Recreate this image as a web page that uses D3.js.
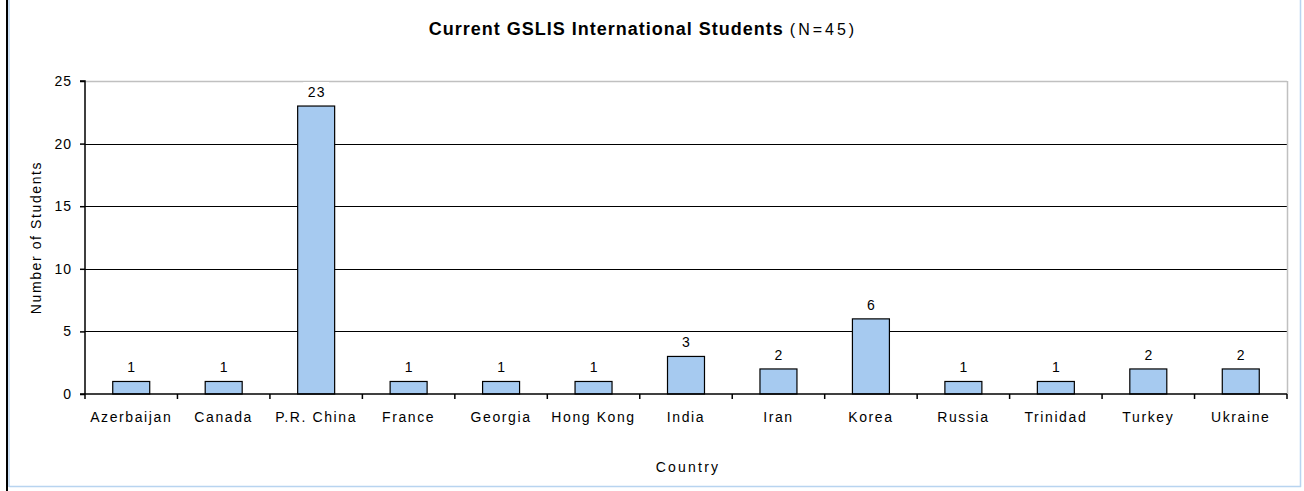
<!DOCTYPE html>
<html>
<head>
<meta charset="utf-8">
<script src="https://cdn.jsdelivr.net/npm/d3@7"></script>
<style>
  body { margin: 0; background: #fff; }
  text { font-family: "Liberation Sans", Arial, sans-serif; }
</style>
</head>
<body>
<div class="chart"></div>
<script>
var countries = ["Azerbaijan", "Canada", "P.R. China", "France", "Georgia", "Hong Kong",
    "India", "Iran", "Korea", "Russia", "Trinidad", "Turkey", "Ukraine"];
var students = [1, 1, 23, 1, 1, 1, 3, 2, 6, 1, 1, 2, 2];
var yTicks = [0, 5, 10, 15, 20, 25];

var dataset = countries.map(function (c, i) { return { country: c, value: students[i] }; });

var width = 1304, height = 491;
var plot = { left: 85, right: 1287, top: 81, bottom: 394 };

var svg = d3.select('div.chart')
    .append('svg')
    .attr('width', width)
    .attr('height', height);

// outer frame pieces
svg.append('line').attr('x1', 7).attr('x2', 7).attr('y1', 0).attr('y2', height)
    .attr('stroke', '#000').attr('stroke-width', 2);
svg.append('line').attr('x1', 9).attr('x2', 9).attr('y1', 0).attr('y2', 487)
    .attr('stroke', '#b8d4f0').attr('stroke-width', 1.5);
svg.append('line').attr('x1', 1300.5).attr('x2', 1300.5).attr('y1', 0).attr('y2', 487)
    .attr('stroke', '#b8d4f0').attr('stroke-width', 1.5);
svg.append('line').attr('x1', 9).attr('x2', 1301).attr('y1', 486.5).attr('y2', 486.5)
    .attr('stroke', '#b8d4f0').attr('stroke-width', 1.5);

var x = d3.scaleBand()
    .domain(countries)
    .range([plot.left, plot.right])
    .paddingInner(0.6)
    .paddingOuter(0.3);

var y = d3.scaleLinear()
    .domain([0, 25])
    .range([plot.bottom, plot.top]);

var step = x.step();

// gridlines
svg.append('g')
    .selectAll('line')
    .data(yTicks.filter(function (t) { return t > 0; }))
    .enter()
    .append('line')
    .attr('x1', plot.left)
    .attr('x2', plot.right)
    .attr('y1', function (d) { return Math.round(y(d)) + 0.5; })
    .attr('y2', function (d) { return Math.round(y(d)) + 0.5; })
    .attr('stroke', function (d) { return d == 25 ? '#c0c0c0' : '#000'; })
    .attr('stroke-width', function (d) { return d == 25 ? 1.5 : 1; });

// right border of the plot area
svg.append('line')
    .attr('x1', plot.right + 0.5).attr('x2', plot.right + 0.5)
    .attr('y1', plot.top).attr('y2', plot.bottom)
    .attr('stroke', '#c0c0c0').attr('stroke-width', 1.5);

// bars
svg.append('g')
    .selectAll('rect')
    .data(dataset)
    .enter()
    .append('rect')
    .attr('x', function (d) { return x(d.country); })
    .attr('y', function (d) { return y(d.value); })
    .attr('width', x.bandwidth())
    .attr('height', function (d) { return y(0) - y(d.value); })
    .attr('fill', '#a6caf0')
    .attr('stroke', '#000')
    .attr('stroke-width', 1.2);

// value labels, with white box behind
var labels = svg.append('g');
labels.selectAll('rect')
    .data(dataset)
    .enter()
    .append('rect')
    .attr('x', function (d) { return x(d.country) + x.bandwidth() / 2 - 13; })
    .attr('y', function (d) { return y(d.value) - 24; })
    .attr('width', 26)
    .attr('height', 16)
    .attr('fill', '#fff');
labels.selectAll('text')
    .data(dataset)
    .enter()
    .append('text')
    .attr('x', function (d) { return x(d.country) + x.bandwidth() / 2 + 0.5; })
    .attr('y', function (d) { return y(d.value) - 9; })
    .attr('text-anchor', 'middle')
    .style('font-size', '14px')
    .style('letter-spacing', '1px')
    .text(function (d) { return d.value; });

// y axis
var y_axis = d3.axisLeft(y).tickValues(yTicks).tickSize(5).tickPadding(8);
var gy = svg.append('g')
    .attr('transform', 'translate(' + plot.left + ',0)')
    .call(y_axis);
gy.select('.domain').attr('stroke-width', 1.5).attr('d', 'M-5,' + y(25) + 'H0V' + y(0));
gy.selectAll('.tick line').attr('stroke-width', 1.5);
gy.selectAll('.tick text')
    .style('font-size', '14px')
    .style('letter-spacing', '1px')
    .style('font-family', '"Liberation Sans", Arial, sans-serif')
    .attr('fill', '#000');

// x axis: ticks at category boundaries
var gx = svg.append('g')
    .attr('transform', 'translate(0,' + plot.bottom + ')');
gx.append('line')
    .attr('x1', plot.left - 5).attr('x2', plot.right)
    .attr('y1', 0).attr('y2', 0)
    .attr('stroke', '#000').attr('stroke-width', 1.5);
var bounds = countries.map(function (c) { return x(c) - step * 0.3; });
bounds.push(plot.right);
gx.selectAll('line.tk')
    .data(bounds)
    .enter()
    .append('line')
    .attr('class', 'tk')
    .attr('x1', function (d) { return d; })
    .attr('x2', function (d) { return d; })
    .attr('y1', 0).attr('y2', 5)
    .attr('stroke', '#000').attr('stroke-width', 1.5);
gx.selectAll('text')
    .data(countries)
    .enter()
    .append('text')
    .attr('x', function (d) { return x(d) + x.bandwidth() / 2; })
    .attr('y', 28)
    .attr('text-anchor', 'middle')
    .style('font-size', '14px')
    .style('letter-spacing', '1.6px')
    .text(function (d) { return d; });

// axis titles
svg.append('text')
    .attr('transform', 'translate(41,' + ((plot.top + plot.bottom) / 2) + ') rotate(-90)')
    .attr('text-anchor', 'middle')
    .style('font-size', '14px')
    .style('letter-spacing', '1.6px')
    .text('Number of Students');

svg.append('text')
    .attr('x', 688)
    .attr('y', 472)
    .attr('text-anchor', 'middle')
    .style('font-size', '14px')
    .style('letter-spacing', '2.2px')
    .text('Country');

// chart title
var title = svg.append('text')
    .attr('x', 643)
    .attr('y', 35)
    .attr('text-anchor', 'middle');
title.append('tspan')
    .style('font-size', '18px')
    .style('font-weight', 'bold')
    .style('letter-spacing', '1px')
    .text('Current GSLIS International Students ');
title.append('tspan')
    .style('font-size', '16px')
    .style('letter-spacing', '3px')
    .text('(N=45)');
</script>
</body>
</html>
